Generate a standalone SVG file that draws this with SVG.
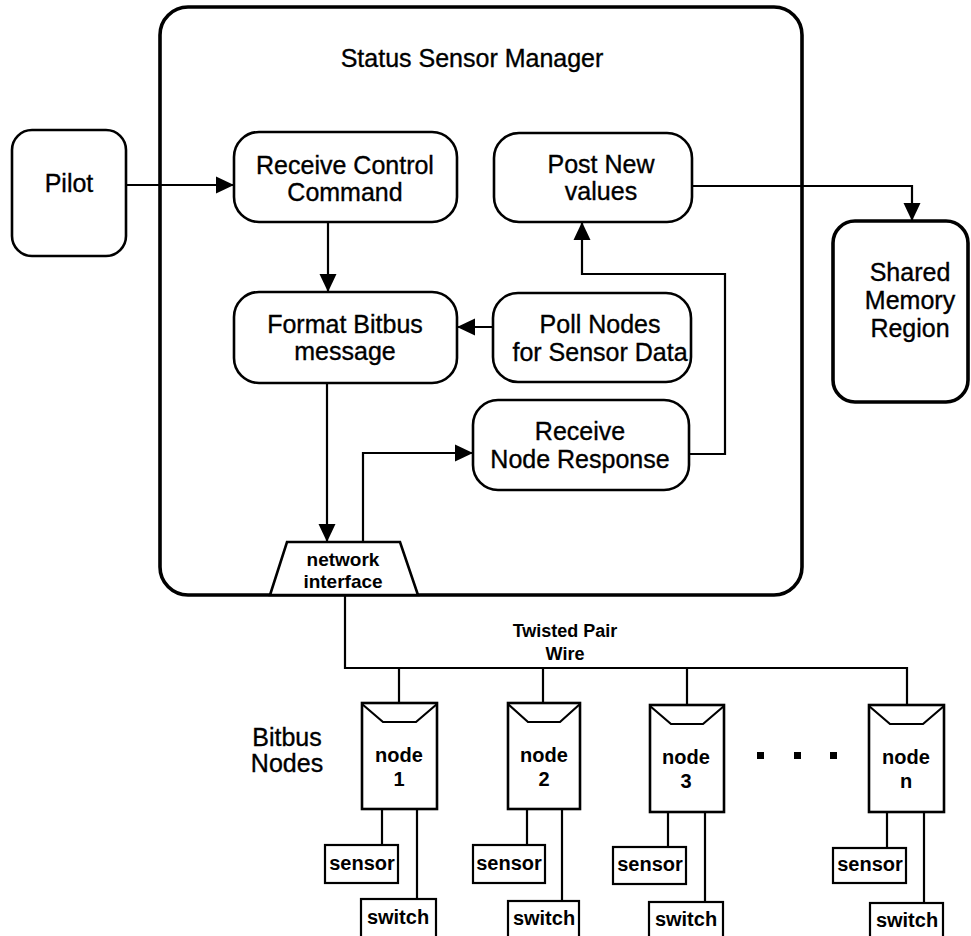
<svg xmlns="http://www.w3.org/2000/svg" width="971" height="936" viewBox="0 0 971 936">
<defs>
<marker id="arr" markerUnits="userSpaceOnUse" markerWidth="20" markerHeight="20" viewBox="0 0 20 20" refX="18" refY="10" orient="auto">
<path d="M0,1.5 L18,10 L0,18.5 Z" fill="#000"/>
</marker>
</defs>
<style>
.box{fill:#fff;stroke:#000;stroke-width:2.6}
.big{fill:none;stroke:#000;stroke-width:3.6}
.sq{fill:#fff;stroke:#000;stroke-width:2.2}
.ln{fill:none;stroke:#000;stroke-width:2.2}
.t{font-family:"Liberation Sans",Arial,sans-serif;font-size:25px;fill:#000;stroke:#000;stroke-width:0.35;text-anchor:middle}
.s{font-family:"Liberation Sans",Arial,sans-serif;font-size:18px;font-weight:bold;fill:#000;text-anchor:middle}
.m{font-family:"Liberation Sans",Arial,sans-serif;font-size:19px;font-weight:bold;fill:#000;text-anchor:middle}
.n{font-family:"Liberation Sans",Arial,sans-serif;font-size:20px;font-weight:bold;fill:#000;text-anchor:middle}
</style>
<rect width="971" height="936" fill="#fff"/>

<g id="manager">
<rect class="big" x="160" y="7" width="642" height="588" rx="28"/>
<text class="t" x="472" y="67">Status Sensor Manager</text>
</g>

<g id="pilot">
<rect class="box" x="12" y="130" width="114" height="126" rx="20"/>
<text class="t" x="69" y="192">Pilot</text>
</g>

<g id="receive-control">
<rect class="box" x="234" y="132" width="223" height="90" rx="25"/>
<text class="t" x="345" y="174">Receive Control</text>
<text class="t" x="345" y="201">Command</text>
</g>

<g id="format">
<rect class="box" x="234" y="292" width="223" height="91" rx="25"/>
<text class="t" x="345" y="333">Format Bitbus</text>
<text class="t" x="345" y="360">message</text>
</g>

<g id="post">
<rect class="box" x="494" y="133" width="198" height="89" rx="25"/>
<text class="t" x="601" y="173">Post New</text>
<text class="t" x="601" y="200">values</text>
</g>

<g id="poll">
<rect class="box" x="493" y="293" width="198" height="89" rx="25"/>
<text class="t" x="600" y="333">Poll Nodes</text>
<text class="t" x="600" y="361">for Sensor Data</text>
</g>

<g id="receive-node">
<rect class="box" x="473" y="400" width="216" height="90" rx="25"/>
<text class="t" x="580" y="440">Receive</text>
<text class="t" x="580" y="468">Node Response</text>
</g>

<g id="shared">
<rect class="big" x="833" y="221" width="135" height="181" rx="22"/>
<text class="t" x="910" y="281">Shared</text>
<text class="t" x="910" y="309">Memory</text>
<text class="t" x="910" y="337">Region</text>
</g>

<g id="network-interface">
<path class="box" d="M287,542 L400,542 L418,595 L270,595 Z"/>
<text class="m" x="343" y="566">network</text>
<text class="m" x="343" y="588">interface</text>
</g>

<g id="connectors">
<path class="ln" d="M126,185 H234" marker-end="url(#arr)"/>
<path class="ln" d="M328,222 V292" marker-end="url(#arr)"/>
<path class="ln" d="M493,327 H457" marker-end="url(#arr)"/>
<path class="ln" d="M327,383 V542" marker-end="url(#arr)"/>
<path class="ln" d="M363,542 V453 H473" marker-end="url(#arr)"/>
<path class="ln" d="M689,454 H725 V274 H582 V222" marker-end="url(#arr)"/>
<path class="ln" d="M692,186 H912 V221" marker-end="url(#arr)"/>
<path class="ln" d="M345,595 V668 H907 V705"/>
<path class="ln" d="M399,668 V703 M543,668 V703 M687,668 V705"/>
<path class="ln" d="M382,809 V845 M417,809 V899"/>
<path class="ln" d="M527,809 V845 M562,809 V901"/>
<path class="ln" d="M668,812 V847 M705,812 V902"/>
<path class="ln" d="M887,812 V848 M924,812 V903"/>
</g>

<g id="bus-label">
<text class="s" x="565" y="637">Twisted Pair</text>
<text class="s" x="565" y="660">Wire</text>
</g>

<g id="bitbus-label">
<text class="t" x="287" y="746">Bitbus</text>
<text class="t" x="287" y="772">Nodes</text>
</g>

<g id="node1">
<rect class="box" x="362" y="703" width="75" height="106"/>
<path class="ln" d="M362,704 L383,722 H416 L437,704"/>
<text class="n" x="399" y="762">node</text>
<text class="n" x="399" y="786">1</text>
</g>
<g id="node2">
<rect class="box" x="508" y="703" width="72" height="106"/>
<path class="ln" d="M508,704 L528,722 H560 L580,704"/>
<text class="n" x="544" y="762">node</text>
<text class="n" x="544" y="786">2</text>
</g>
<g id="node3">
<rect class="box" x="650" y="705" width="74" height="107"/>
<path class="ln" d="M650,706 L671,724 H703 L724,706"/>
<text class="n" x="686" y="764">node</text>
<text class="n" x="686" y="788">3</text>
</g>
<g id="noden">
<rect class="box" x="869" y="705" width="75" height="107"/>
<path class="ln" d="M869,706 L890,724 H923 L944,706"/>
<text class="n" x="906" y="764">node</text>
<text class="n" x="906" y="788">n</text>
</g>

<g id="dots">
<rect x="757" y="752" width="7" height="7" fill="#000"/>
<rect x="794" y="752" width="7" height="7" fill="#000"/>
<rect x="830" y="752" width="7" height="7" fill="#000"/>
</g>

<g id="sensor1"><rect class="sq" x="325" y="845" width="73" height="38"/><text class="n" x="362" y="870">sensor</text></g>
<g id="sensor2"><rect class="sq" x="473" y="845" width="72" height="38"/><text class="n" x="509" y="870">sensor</text></g>
<g id="sensor3"><rect class="sq" x="613" y="847" width="73" height="37"/><text class="n" x="650" y="871">sensor</text></g>
<g id="sensorn"><rect class="sq" x="833" y="848" width="73" height="35"/><text class="n" x="870" y="871">sensor</text></g>

<g id="switch1"><rect class="sq" x="361" y="899" width="75" height="60"/><text class="n" x="398" y="924">switch</text></g>
<g id="switch2"><rect class="sq" x="508" y="901" width="71" height="60"/><text class="n" x="544" y="925">switch</text></g>
<g id="switch3"><rect class="sq" x="649" y="902" width="74" height="60"/><text class="n" x="686" y="926">switch</text></g>
<g id="switchn"><rect class="sq" x="870" y="903" width="73" height="60"/><text class="n" x="907" y="927">switch</text></g>
</svg>
